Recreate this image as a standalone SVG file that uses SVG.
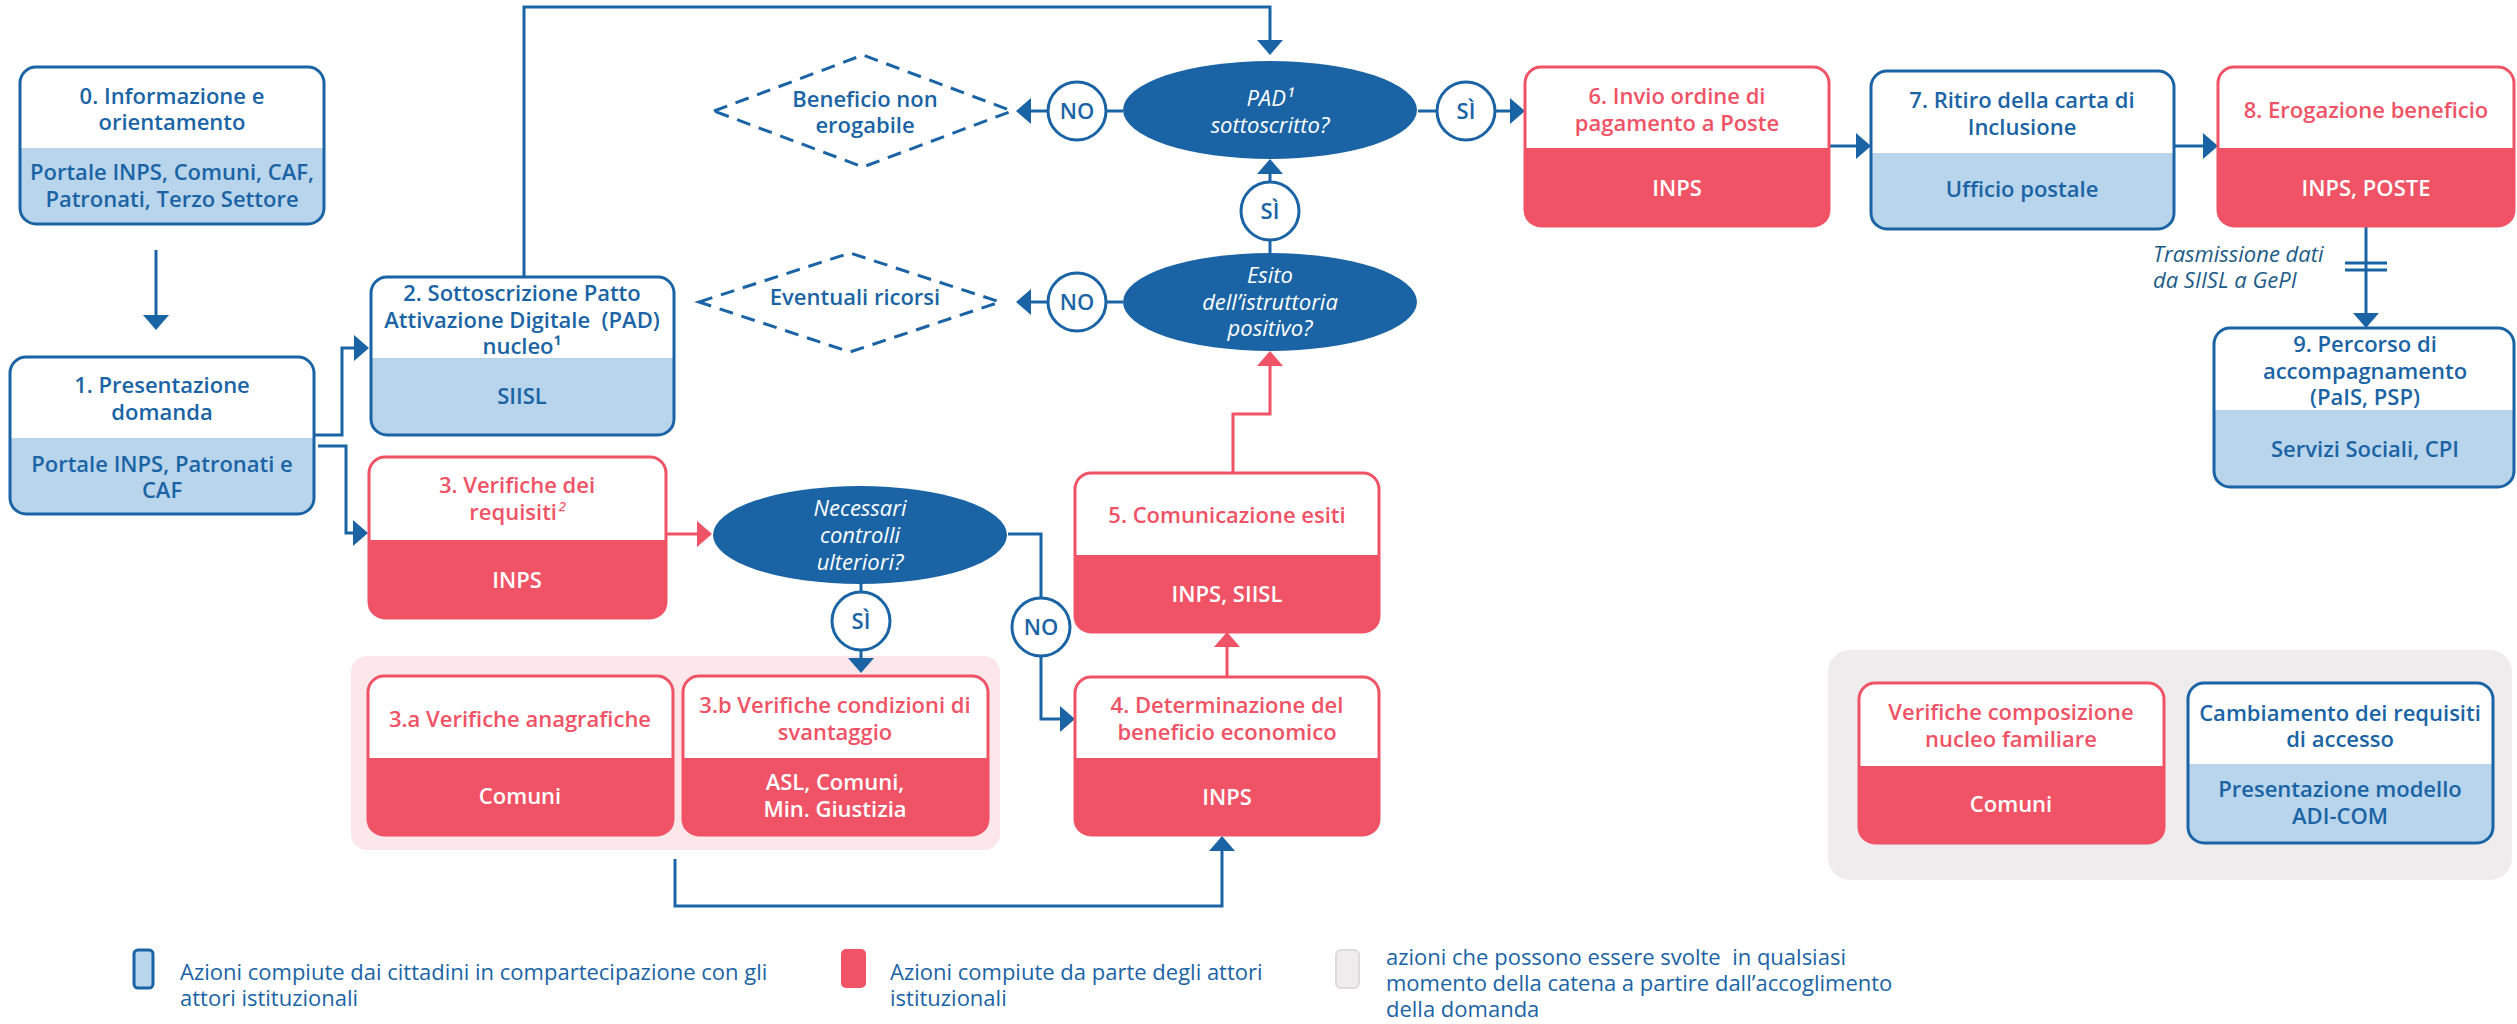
<svg xmlns="http://www.w3.org/2000/svg" width="2517" height="1024" viewBox="0 0 2517 1024">
<defs>
<style>
.t{font-family:"Open Sans","Noto Sans","Liberation Sans",sans-serif;font-size:22px;font-weight:600;text-anchor:middle}
.b{fill:#1a64a5}.r{fill:#f05365}.w{fill:#ffffff}
.it{font-style:italic;font-weight:400}
.lg{font-family:"Open Sans","Noto Sans","Liberation Sans",sans-serif;font-size:22px;font-weight:400;fill:#1a64a5}
.ol{fill:none;stroke-width:3}
.ob{stroke:#1a64a5}.or{stroke:#f05365}
.bb{fill:#b9d5ec}.br{fill:#f05365}
.hw{fill:#ffffff}
.ln{fill:none;stroke:#1a64a5;stroke-width:3}
.lr{fill:none;stroke:#f05365;stroke-width:3}
.ci{fill:#ffffff;stroke:#1a64a5;stroke-width:3}
.el{fill:#1a64a5}
.dm{fill:none;stroke:#1a64a5;stroke-width:3;stroke-dasharray:14 9}
</style>
<marker id="ab" markerUnits="userSpaceOnUse" markerWidth="16" markerHeight="26" refX="0" refY="13" orient="auto" overflow="visible"><path d="M0,0 L15,13 L0,26 Z" fill="#1a64a5"/></marker>
<marker id="ar" markerUnits="userSpaceOnUse" markerWidth="16" markerHeight="26" refX="0" refY="13" orient="auto" overflow="visible"><path d="M0,0 L15,13 L0,26 Z" fill="#f05365"/></marker>
</defs>
<rect width="2517" height="1024" fill="#ffffff"/>

<!-- background groups -->
<rect id="group3" x="351" y="656" width="649" height="194" rx="16" fill="#fde7ea"/>
<rect id="grayBox" x="1828" y="650" width="684" height="230" rx="22" fill="#eeeced"/>

<!-- connectors -->
<g id="connectors">
<path class="ln" d="M156,250 V315" marker-end="url(#ab)"/>
<path class="ln" d="M314,435 H342 V348 H354" marker-end="url(#ab)"/>
<path class="ln" d="M318,446 H346 V533 H353" marker-end="url(#ab)"/>
<path class="ln" d="M524,277 V7 H1270 V40" marker-end="url(#ab)"/>
<path class="lr" d="M666,534 H697" marker-end="url(#ar)"/>
<path class="ln" d="M861,584 V592"/>
<path class="ln" d="M861,650 V658" marker-end="url(#ab)"/>
<path class="ln" d="M1008,534 H1041 V598"/>
<path class="ln" d="M1041,656 V719 H1060" marker-end="url(#ab)"/>
<path class="ln" d="M675,859 V906 H1222 V851" marker-end="url(#ab)"/>
<path class="lr" d="M1227,677 V647" marker-end="url(#ar)"/>
<path class="lr" d="M1233,473 V414 H1270 V366" marker-end="url(#ar)"/>
<path class="ln" d="M1270,253 V240"/>
<path class="ln" d="M1270,182 V174" marker-end="url(#ab)"/>
<path class="ln" d="M1123,302 H1106"/>
<path class="ln" d="M1048,302 H1031" marker-end="url(#ab)"/>
<path class="ln" d="M1123,111 H1106"/>
<path class="ln" d="M1048,111 H1031" marker-end="url(#ab)"/>
<path class="ln" d="M1418,111 H1437"/>
<path class="ln" d="M1495,111 H1510" marker-end="url(#ab)"/>
<path class="ln" d="M1829,146 H1856" marker-end="url(#ab)"/>
<path class="ln" d="M2174,146 H2203" marker-end="url(#ab)"/>
<path class="ln" d="M2366,226 V313" marker-end="url(#ab)"/>
<path class="ln" d="M2345,263 H2387 M2345,270 H2387"/>
</g>

<!-- node 0 -->
<g id="n0">
<rect x="20" y="67" width="304" height="157" rx="16" class="hw"/>
<path class="bb" d="M20,148 H324 V208 A16,16 0 0 1 308,224 H36 A16,16 0 0 1 20,208 Z"/>
<rect x="20" y="67" width="304" height="157" rx="16" class="ol ob"/>
<text class="t b" x="172" y="104">0. Informazione e</text>
<text class="t b" x="172" y="130">orientamento</text>
<text class="t b" x="172" y="180">Portale INPS, Comuni, CAF,</text>
<text class="t b" x="172" y="207">Patronati, Terzo Settore</text>
</g>

<!-- node 1 -->
<g id="n1">
<rect x="10" y="357" width="304" height="157" rx="16" class="hw"/>
<path class="bb" d="M10,438 H314 V498 A16,16 0 0 1 298,514 H26 A16,16 0 0 1 10,498 Z"/>
<rect x="10" y="357" width="304" height="157" rx="16" class="ol ob"/>
<text class="t b" x="162" y="393">1. Presentazione</text>
<text class="t b" x="162" y="420">domanda</text>
<text class="t b" x="162" y="472">Portale INPS, Patronati e</text>
<text class="t b" x="162" y="498">CAF</text>
</g>

<!-- node 2 -->
<g id="n2">
<rect x="371" y="277" width="303" height="158" rx="16" class="hw"/>
<path class="bb" d="M371,358 H674 V419 A16,16 0 0 1 658,435 H387 A16,16 0 0 1 371,419 Z"/>
<rect x="371" y="277" width="303" height="158" rx="16" class="ol ob"/>
<text class="t b" x="522" y="301">2. Sottoscrizione Patto</text>
<text class="t b" x="522" y="328">Attivazione Digitale &#160;(PAD)</text>
<text class="t b" x="522" y="354">nucleo¹</text>
<text class="t b" x="522" y="404">SIISL</text>
</g>

<!-- node 3 -->
<g id="n3">
<rect x="369" y="457" width="297" height="161" rx="16" class="hw"/>
<path class="br" d="M369,540 H666 V602 A16,16 0 0 1 650,618 H385 A16,16 0 0 1 369,602 Z"/>
<rect x="369" y="457" width="297" height="161" rx="16" class="ol or"/>
<text class="t r" x="517" y="493">3. Verifiche dei</text>
<text class="t r" x="517" y="520">requisiti<tspan font-weight="400" font-style="italic">²</tspan></text>
<text class="t w" x="517" y="588">INPS</text>
</g>

<!-- decision: necessari controlli -->
<g id="d_necessari">
<ellipse class="el" cx="860" cy="535" rx="147" ry="49"/>
<text class="t w it" x="860" y="516">Necessari</text>
<text class="t w it" x="860" y="543">controlli</text>
<text class="t w it" x="860" y="570">ulteriori?</text>
</g>
<g id="c_si1"><circle class="ci" cx="861" cy="621" r="29"/><text class="t b" x="861" y="629">SÌ</text></g>
<g id="c_no1"><circle class="ci" cx="1041" cy="627" r="29"/><text class="t b" x="1041" y="635">NO</text></g>

<!-- node 3a -->
<g id="n3a">
<rect x="368" y="676" width="305" height="159" rx="16" class="hw"/>
<path class="br" d="M368,758 H673 V819 A16,16 0 0 1 657,835 H384 A16,16 0 0 1 368,819 Z"/>
<rect x="368" y="676" width="305" height="159" rx="16" class="ol or"/>
<text class="t r" x="520" y="727">3.a Verifiche anagrafiche</text>
<text class="t w" x="520" y="804">Comuni</text>
</g>

<!-- node 3b -->
<g id="n3b">
<rect x="683" y="676" width="305" height="159" rx="16" class="hw"/>
<path class="br" d="M683,758 H988 V819 A16,16 0 0 1 972,835 H699 A16,16 0 0 1 683,819 Z"/>
<rect x="683" y="676" width="305" height="159" rx="16" class="ol or"/>
<text class="t r" x="835" y="713">3.b Verifiche condizioni di</text>
<text class="t r" x="835" y="740">svantaggio</text>
<text class="t w" x="835" y="790">ASL, Comuni,</text>
<text class="t w" x="835" y="817">Min. Giustizia</text>
</g>

<!-- node 4 -->
<g id="n4">
<rect x="1075" y="677" width="304" height="158" rx="16" class="hw"/>
<path class="br" d="M1075,758 H1379 V819 A16,16 0 0 1 1363,835 H1091 A16,16 0 0 1 1075,819 Z"/>
<rect x="1075" y="677" width="304" height="158" rx="16" class="ol or"/>
<text class="t r" x="1227" y="713">4. Determinazione del</text>
<text class="t r" x="1227" y="740">beneficio economico</text>
<text class="t w" x="1227" y="805">INPS</text>
</g>

<!-- node 5 -->
<g id="n5">
<rect x="1075" y="473" width="304" height="159" rx="16" class="hw"/>
<path class="br" d="M1075,555 H1379 V616 A16,16 0 0 1 1363,632 H1091 A16,16 0 0 1 1075,616 Z"/>
<rect x="1075" y="473" width="304" height="159" rx="16" class="ol or"/>
<text class="t r" x="1227" y="523">5. Comunicazione esiti</text>
<text class="t w" x="1227" y="602">INPS, SIISL</text>
</g>

<!-- decision: esito -->
<g id="d_esito">
<ellipse class="el" cx="1270" cy="302" rx="147" ry="49"/>
<text class="t w it" x="1270" y="283">Esito</text>
<text class="t w it" x="1270" y="310">dell’istruttoria</text>
<text class="t w it" x="1270" y="336">positivo?</text>
</g>
<g id="c_si2"><circle class="ci" cx="1270" cy="211" r="29"/><text class="t b" x="1270" y="219">SÌ</text></g>
<g id="c_no2"><circle class="ci" cx="1077" cy="302" r="29"/><text class="t b" x="1077" y="310">NO</text></g>
<g id="eventuali">
<polygon class="dm" points="699,302 850,253 1000,302 850,352"/>
<text class="t b" x="855" y="305">Eventuali ricorsi</text>
</g>

<!-- decision: PAD -->
<g id="d_pad">
<ellipse class="el" cx="1270" cy="110" rx="147" ry="49"/>
<text class="t w it" x="1270" y="106">PAD¹</text>
<text class="t w it" x="1270" y="133">sottoscritto?</text>
</g>
<g id="c_no3"><circle class="ci" cx="1077" cy="111" r="29"/><text class="t b" x="1077" y="119">NO</text></g>
<g id="c_si3"><circle class="ci" cx="1466" cy="111" r="29"/><text class="t b" x="1466" y="119">SÌ</text></g>
<g id="beneficio">
<polygon class="dm" points="714,111 863,55 1012,111 863,167"/>
<text class="t b" x="865" y="107">Beneficio non</text>
<text class="t b" x="865" y="133">erogabile</text>
</g>

<!-- node 6 -->
<g id="n6">
<rect x="1525" y="67" width="304" height="159" rx="16" class="hw"/>
<path class="br" d="M1525,148 H1829 V210 A16,16 0 0 1 1813,226 H1541 A16,16 0 0 1 1525,210 Z"/>
<rect x="1525" y="67" width="304" height="159" rx="16" class="ol or"/>
<text class="t r" x="1677" y="104">6. Invio ordine di</text>
<text class="t r" x="1677" y="131">pagamento a Poste</text>
<text class="t w" x="1677" y="196">INPS</text>
</g>

<!-- node 7 -->
<g id="n7">
<rect x="1871" y="71" width="303" height="158" rx="16" class="hw"/>
<path class="bb" d="M1871,153 H2174 V213 A16,16 0 0 1 2158,229 H1887 A16,16 0 0 1 1871,213 Z"/>
<rect x="1871" y="71" width="303" height="158" rx="16" class="ol ob"/>
<text class="t b" x="2022" y="108">7. Ritiro della carta di</text>
<text class="t b" x="2022" y="135">Inclusione</text>
<text class="t b" x="2022" y="197">Ufficio postale</text>
</g>

<!-- node 8 -->
<g id="n8">
<rect x="2218" y="67" width="296" height="159" rx="16" class="hw"/>
<path class="br" d="M2218,148 H2514 V210 A16,16 0 0 1 2498,226 H2234 A16,16 0 0 1 2218,210 Z"/>
<rect x="2218" y="67" width="296" height="159" rx="16" class="ol or"/>
<text class="t r" x="2366" y="118">8. Erogazione beneficio</text>
<text class="t w" x="2366" y="196">INPS, POSTE</text>
</g>

<text font-family="Open Sans, Noto Sans, Liberation Sans, sans-serif" font-size="22" font-style="italic" fill="#1d5b87" x="2153" y="262">Trasmissione dati</text>
<text font-family="Open Sans, Noto Sans, Liberation Sans, sans-serif" font-size="22" font-style="italic" fill="#1d5b87" x="2153" y="288">da SIISL a GePI</text>

<!-- node 9 -->
<g id="n9">
<rect x="2214" y="328" width="300" height="159" rx="16" class="hw"/>
<path class="bb" d="M2214,410 H2514 V471 A16,16 0 0 1 2498,487 H2230 A16,16 0 0 1 2214,471 Z"/>
<rect x="2214" y="328" width="300" height="159" rx="16" class="ol ob"/>
<text class="t b" x="2365" y="352">9. Percorso di</text>
<text class="t b" x="2365" y="379">accompagnamento</text>
<text class="t b" x="2365" y="405">(PaIS, PSP)</text>
<text class="t b" x="2365" y="457">Servizi Sociali, CPI</text>
</g>

<!-- gray box nodes -->
<g id="nA">
<rect x="1859" y="683" width="305" height="160" rx="16" class="hw"/>
<path class="br" d="M1859,766 H2164 V827 A16,16 0 0 1 2148,843 H1875 A16,16 0 0 1 1859,827 Z"/>
<rect x="1859" y="683" width="305" height="160" rx="16" class="ol or"/>
<text class="t r" x="2011" y="720">Verifiche composizione</text>
<text class="t r" x="2011" y="747">nucleo familiare</text>
<text class="t w" x="2011" y="812">Comuni</text>
</g>
<g id="nB">
<rect x="2188" y="683" width="305" height="160" rx="16" class="hw"/>
<path class="bb" d="M2188,764 H2493 V827 A16,16 0 0 1 2477,843 H2204 A16,16 0 0 1 2188,827 Z"/>
<rect x="2188" y="683" width="305" height="160" rx="16" class="ol ob"/>
<text class="t b" x="2340" y="721">Cambiamento dei requisiti</text>
<text class="t b" x="2340" y="747">di accesso</text>
<text class="t b" x="2340" y="797">Presentazione modello</text>
<text class="t b" x="2340" y="824">ADI-COM</text>
</g>

<!-- legend -->
<g id="legend">
<rect x="134" y="950" width="19" height="38" rx="4" fill="#b9d5ec" stroke="#1a64a5" stroke-width="3"/>
<text class="lg" x="180" y="980">Azioni compiute dai cittadini in compartecipazione con gli</text>
<text class="lg" x="180" y="1006">attori istituzionali</text>
<rect x="841" y="949" width="25" height="39" rx="5" fill="#f05365"/>
<text class="lg" x="890" y="980">Azioni compiute da parte degli attori</text>
<text class="lg" x="890" y="1006">istituzionali</text>
<rect x="1336" y="950" width="23" height="38" rx="5" fill="#eeeced" stroke="#dcdada" stroke-width="2"/>
<text class="lg" x="1386" y="965" xml:space="preserve">azioni che possono essere svolte  in qualsiasi</text>
<text class="lg" x="1386" y="991">momento della catena a partire dall’accoglimento</text>
<text class="lg" x="1386" y="1017">della domanda</text>
</g>
</svg>
